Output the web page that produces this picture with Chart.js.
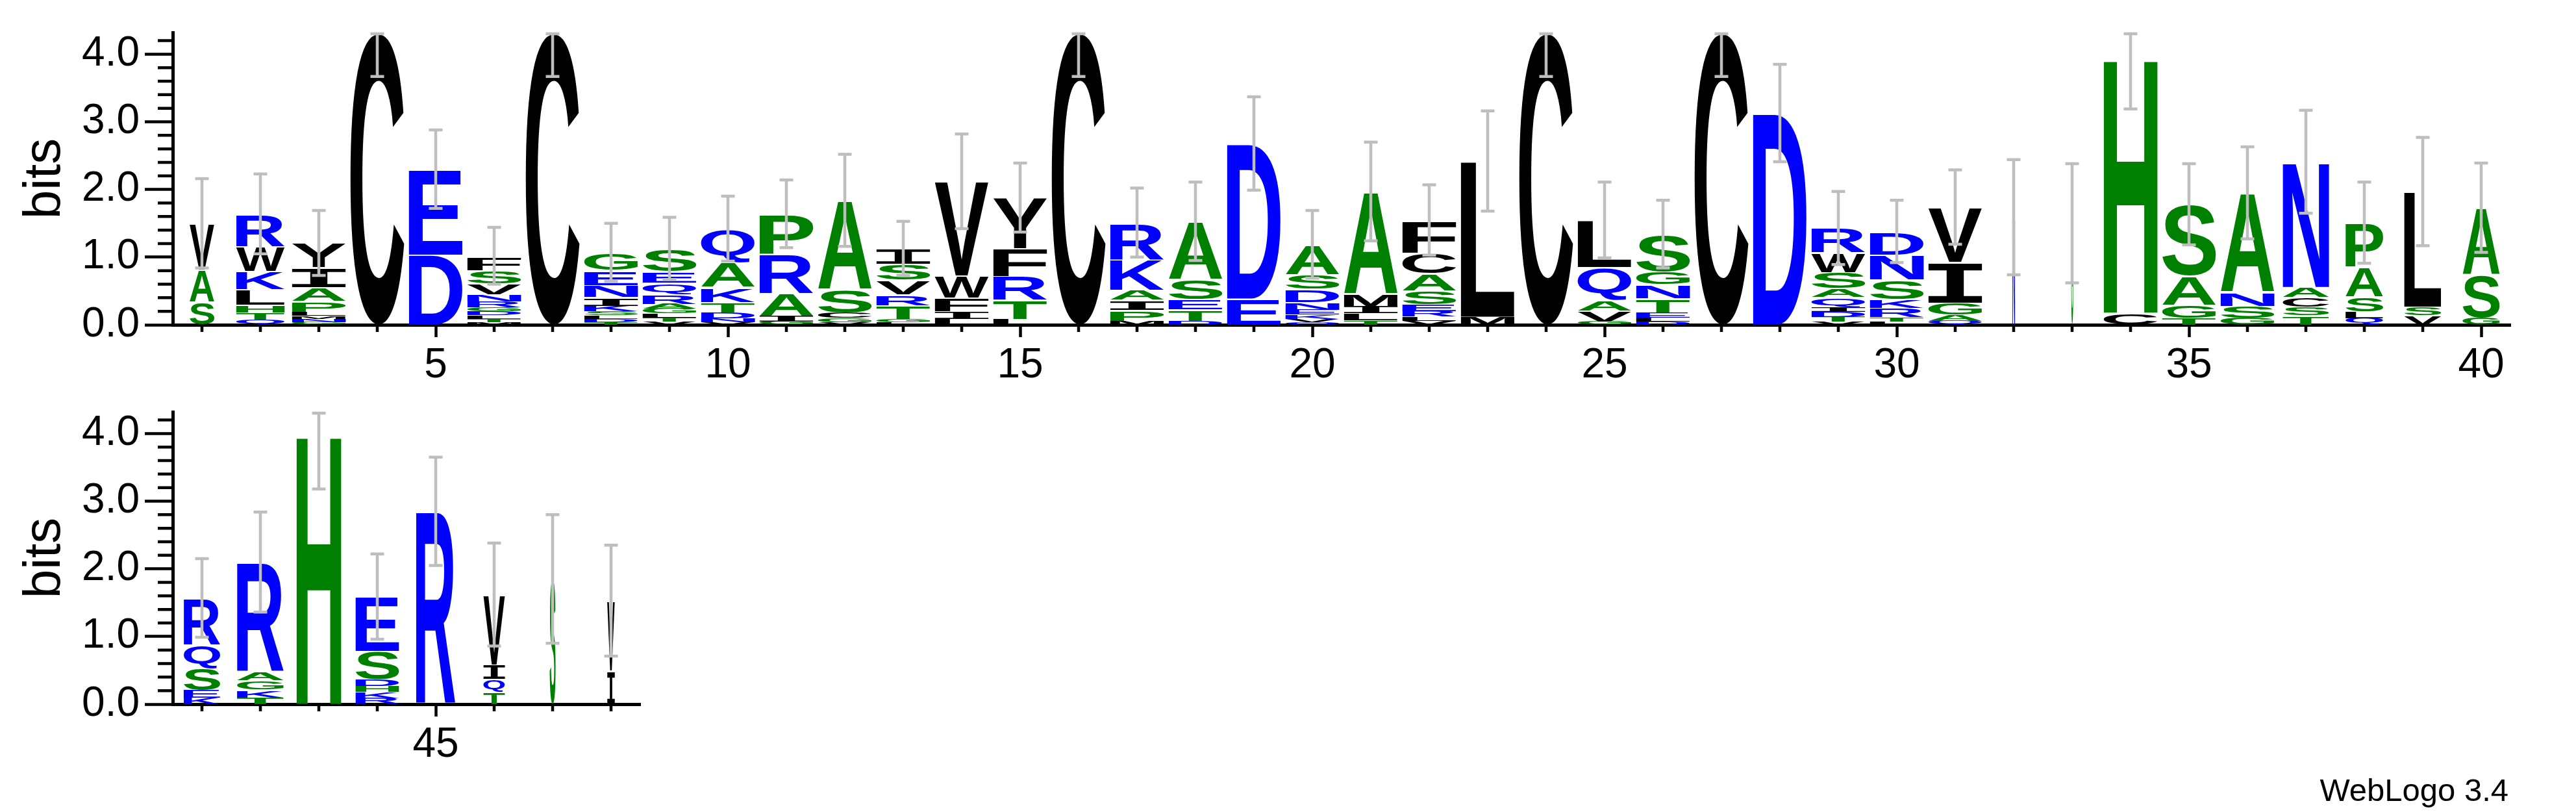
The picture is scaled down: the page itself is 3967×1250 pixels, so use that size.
<!DOCTYPE html>
<html>
<head>
<meta charset="utf-8">
<script src="https://cdn.jsdelivr.net/npm/chart.js@4.4.0/dist/chart.umd.min.js"></script>
<style>
html, body { margin:0; padding:0; background:#fff; }
body { width:3967px; height:1250px; position:relative; overflow:hidden; font-family:"Liberation Sans", Arial, sans-serif; }
#topBox { position:absolute; left:0; top:0; width:3967px; height:620px; }
#botBox { position:absolute; left:0; top:584px; width:1000px; height:620px; }
#credit { position:absolute; right:104px; top:1192px; font-size:49px; line-height:49px; color:#000; white-space:nowrap; }
</style>
</head>
<body>
<div id="topBox"><canvas id="topChart"></canvas></div>
<div id="botBox"><canvas id="botChart"></canvas></div>
<div id="credit">WebLogo 3.4</div>
<script>
// ---------------- DATA ----------------
// sequence positions (x categories)
const positions = [1,2,3,4,5,6,7,8,9,10,11,12,13,14,15,16,17,18,19,20,
                   21,22,23,24,25,26,27,28,29,30,31,32,33,34,35,36,37,38,39,40,
                   41,42,43,44,45,46,47,48];

// letters of each stack, bottom -> top
const stackLetters = [
  'SAV','QTHLKWR','GNMLPAIY','C','DE','MTLDGRNVSF','C','TDLSKINEG','VTLGARQES','VNDTKAQ',
  'GIARP','VGCSA','LGTRVSI','LIFWV','LTRFY','C','MPIAKR','DTESA','ED','QVKENDSA',
  'TLIMA','VLRESACF','ML','C','GVAQL','DLETNGS','C','D','VTDIQASWR','LTRKSND',
  'QAGIV','N','G','CH','TGAS','GSNA','TSCAN','QLSAP','VSL','GSA',
  'KESQR','TKGAR','H','RKHDSE','R','TQIV','S','IV'
];

// letter heights in bits, same order as stackLetters
const stackHeights = [
  [0.34,0.48,0.68],
  [0.08,0.10,0.12,0.23,0.27,0.36,0.48],
  [0.04,0.05,0.04,0.06,0.16,0.21,0.29,0.36],
  [4.32],
  [1.04,1.26],
  [0.04,0.05,0.05,0.06,0.06,0.09,0.10,0.16,0.20,0.21],
  [4.32],
  [0.04,0.05,0.05,0.06,0.08,0.13,0.18,0.22,0.26],
  [0.05,0.06,0.06,0.07,0.07,0.14,0.17,0.17,0.34],
  [0.04,0.06,0.08,0.16,0.22,0.36,0.50],
  [0.05,0.08,0.34,0.58,0.59],
  [0.04,0.06,0.08,0.35,1.31],
  [0.04,0.05,0.20,0.16,0.22,0.23,0.23],
  [0.09,0.11,0.20,0.33,1.39],
  [0.09,0.28,0.35,0.41,0.75],
  [4.32],
  [0.06,0.16,0.15,0.15,0.45,0.54],
  [0.06,0.17,0.15,0.30,0.85],
  [0.39,2.29],
  [0.04,0.05,0.06,0.07,0.12,0.19,0.22,0.44],
  [0.07,0.10,0.10,0.19,1.51],
  [0.06,0.06,0.08,0.10,0.21,0.25,0.31,0.48],
  [0.12,2.30],
  [4.32],
  [0.05,0.16,0.16,0.48,0.70],
  [0.05,0.06,0.07,0.21,0.21,0.19,0.55],
  [4.32],
  [3.13],
  [0.05,0.07,0.07,0.07,0.15,0.13,0.24,0.29,0.36],
  [0.05,0.06,0.14,0.13,0.29,0.37,0.34],
  [0.06,0.09,0.18,0.60,0.81],
  [1.59],
  [1.50],
  [0.18,3.76],
  [0.10,0.19,0.43,1.06],
  [0.10,0.18,0.21,1.46],
  [0.14,0.13,0.14,0.15,1.85],
  [0.10,0.10,0.22,0.44,0.65],
  [0.14,0.13,1.70],
  [0.11,0.64,0.98],
  [0.10,0.11,0.33,0.34,0.69],
  [0.10,0.12,0.13,0.13,1.62],
  [3.98],
  [0.09,0.09,0.09,0.10,0.42,0.80],
  [2.85],
  [0.18,0.19,0.22,1.03],
  [1.85],
  [0.50,1.03]
];

// relative stack widths (column occupancy)
const stackWidths = [
  0.46,0.90,1,1,1,1,1,1,1,1,
  1,1,1,1,1,1,1,1,1,1,
  1,1,1,1,1,1,1,1,1,1,
  1,0.05,0.035,1,1,1,0.86,0.70,0.69,0.69,
  0.68,0.87,0.83,0.81,0.73,0.40,0.11,0.14
];

// error bar half-lengths in bits
const errorBars = [
  0.66,0.59,0.48,0.65,0.58,0.42,0.65,0.43,0.46,0.48,
  0.50,0.68,0.40,0.70,0.51,0.65,0.51,0.58,0.69,0.50,
  0.73,0.52,0.74,0.65,0.56,0.50,0.65,0.72,0.54,0.46,
  0.55,0.85,0.88,0.75,0.60,0.68,0.76,0.60,0.80,0.66,
  0.58,0.74,0.80,0.63,0.80,0.76,0.95,0.82
];

const yMax = 4.32;
const FONT = '"Liberation Sans", Arial, sans-serif';

// ---------------- HELPERS ----------------
function letterColor(ch){
  if('RKDENQ'.includes(ch)) return '#0000ff';
  if('SGHTAP'.includes(ch)) return '#008000';
  return '#000000';
}
function isInt(v){ return Math.abs(v - Math.round(v)) < 1e-6; }

// stretch one glyph so its ink box fills the rectangle
function drawGlyph(ctx, ch, x0, y0, w, h){
  if(h < 0.5 || w < 0.5) return;
  ctx.save();
  ctx.font = ch === 'I' ? 'bold 200px "Liberation Mono", "DejaVu Sans Mono", monospace' : 'bold 200px ' + FONT;
  ctx.textAlign = 'left';
  ctx.textBaseline = 'alphabetic';
  const m = ctx.measureText(ch);
  const gw = m.actualBoundingBoxLeft + m.actualBoundingBoxRight;
  const gh = m.actualBoundingBoxAscent + m.actualBoundingBoxDescent;
  ctx.translate(x0, y0);
  ctx.scale(w / gw, h / gh);
  ctx.fillStyle = letterColor(ch);
  ctx.fillText(ch, m.actualBoundingBoxLeft, m.actualBoundingBoxAscent);
  ctx.restore();
}

// ---------------- PLUGIN: letters, error bars, minor ticks ----------------
const logoPlugin = {
  id: 'logo',
  afterDatasetsDraw(chart, args, opts){
    const ctx = chart.ctx;
    const xs = chart.scales.x, ys = chart.scales.y;
    const first = opts.first;
    const spacing = xs.getPixelForValue(1) - xs.getPixelForValue(0);

    chart.data.datasets.forEach((ds, k) => {
      const meta = chart.getDatasetMeta(k);
      meta.data.forEach((bar, i) => {
        const ch = ds.letters[i];
        if(!ch) return;
        const p = bar.getProps(['x','y','base'], true);
        const w = spacing * 0.92 * stackWidths[first + i];
        const h = p.base - p.y;
        const gap = h > 12 ? 2 : 0;
        drawGlyph(ctx, ch, p.x - w/2, p.y + gap, w, h - gap);
      });
    });

    // error bars
    ctx.save();
    ctx.strokeStyle = '#bebebe';
    ctx.lineWidth = 4.5;
    chart.data.labels.forEach((lab, i) => {
      const total = stackHeights[first + i].reduce((a,b)=>a+b, 0);
      const err = errorBars[first + i];
      const x = xs.getPixelForValue(i);
      const yt = ys.getPixelForValue(Math.min(total + err, yMax - 0.02));
      const yb = ys.getPixelForValue(Math.max(total - err, 0));
      ctx.beginPath();
      ctx.moveTo(x, yt); ctx.lineTo(x, yb);
      ctx.moveTo(x - 10.5, yt); ctx.lineTo(x + 10.5, yt);
      ctx.moveTo(x - 10.5, yb); ctx.lineTo(x + 10.5, yb);
      ctx.stroke();
    });
    ctx.restore();

    // minor ticks
    ctx.save();
    ctx.strokeStyle = '#000';
    ctx.lineWidth = 4.5;
    const area = chart.chartArea;
    ctx.beginPath();
    chart.data.labels.forEach((lab, i) => {
      if(lab % 5 === 0) return;
      const x = xs.getPixelForValue(i);
      ctx.moveTo(x, area.bottom); ctx.lineTo(x, area.bottom + 11);
    });
    for(let s = 1; s < 22; s++){
      if(s % 5 === 0) continue;
      const y = ys.getPixelForValue(s * 0.2);
      ctx.moveTo(area.left, y); ctx.lineTo(area.left - 23, y);
    }
    ctx.stroke();
    ctx.restore();
  }
};

// ---------------- CHARTS ----------------
function makeLogo(canvasId, first, last, padRight){
  const labels = positions.slice(first, last);
  const letters = stackLetters.slice(first, last);
  const heights = stackHeights.slice(first, last);
  const depth = Math.max(...heights.map(h => h.length));

  const datasets = [];
  for(let k = 0; k < depth; k++){
    datasets.push({
      data: heights.map(h => h[k] || 0),
      letters: letters.map(s => s[k] || ''),
      backgroundColor: 'rgba(0,0,0,0)',
      borderWidth: 0,
      barPercentage: 1,
      categoryPercentage: 1
    });
  }

  return new Chart(document.getElementById(canvasId), {
    type: 'bar',
    data: { labels, datasets },
    plugins: [logoPlugin],
    options: {
      responsive: true,
      maintainAspectRatio: false,
      devicePixelRatio: 1,
      animation: false,
      layout: { padding: { top: 50, right: padRight, left: 0, bottom: 0 } },
      plugins: {
        legend: { display: false },
        tooltip: { enabled: false },
        logo: { first }
      },
      scales: {
        x: {
          stacked: true,
          offset: true,
          afterFit: s => { s.height = 120; },
          ticks: {
            autoSkip: false, maxRotation: 0, minRotation: 0, padding: 6,
            color: '#000', font: { family: FONT, size: 64 },
            callback: (v, i) => labels[i] % 5 === 0 ? String(labels[i]) : ''
          },
          grid: {
            offset: false, drawOnChartArea: false, drawTicks: true,
            tickLength: 19, tickWidth: 4.5,
            tickColor: c => labels[c.index] % 5 === 0 ? '#000' : 'rgba(0,0,0,0)'
          },
          border: { display: true, color: '#000', width: 5 }
        },
        y: {
          stacked: true,
          min: 0, max: yMax,
          afterFit: s => { s.width = 266; },
          afterBuildTicks: s => { s.ticks = s.ticks.filter(t => isInt(t.value * 5)); },
          ticks: {
            stepSize: 0.2, autoSkip: false, padding: 8,
            color: '#000', font: { family: FONT, size: 64 },
            callback: v => isInt(v) ? Number(v).toFixed(1) : ''
          },
          grid: {
            drawOnChartArea: false, drawTicks: true,
            tickLength: 43, tickWidth: 4.5,
            tickColor: c => (c.tick && isInt(c.tick.value)) ? '#000' : 'rgba(0,0,0,0)'
          },
          border: { display: true, color: '#000', width: 5 },
          title: {
            display: true, text: 'bits', color: '#000',
            font: { family: FONT, size: 80, lineHeight: 1 },
            padding: { top: 30, bottom: 0 }
          }
        }
      }
    }
  });
}

makeLogo('topChart', 0, 40, 101);
makeLogo('botChart', 40, 48, 14);
</script>
</body>
</html>
